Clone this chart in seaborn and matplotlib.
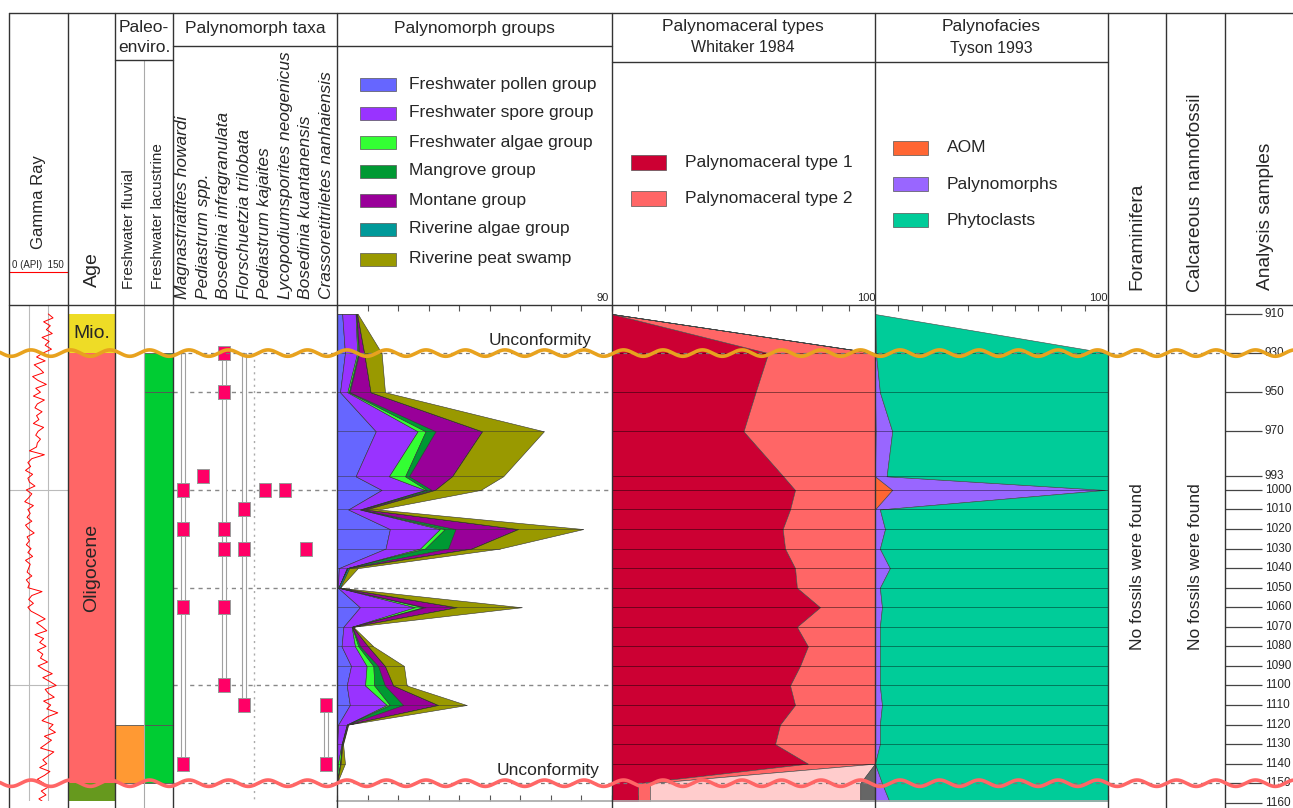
import numpy as np
import pandas as pd
import seaborn as sns
import matplotlib.pyplot as plt
from matplotlib.patches import Rectangle

sns.set_theme(style="white")
plt.rcParams['font.family'] = ['Liberation Sans', 'DejaVu Sans']

# ---------------- data ----------------
samples = [910, 930, 950, 970, 993, 1000, 1010, 1020, 1030, 1040, 1050,
           1060, 1070, 1080, 1090, 1100, 1110, 1120, 1130, 1140, 1150]
depth_labels = [910, 930, 950, 970, 993, 1000, 1010, 1020, 1030, 1040, 1050,
                1060, 1070, 1080, 1090, 1100, 1110, 1120, 1130, 1140, 1150, 1160]

# gamma ray log (API), every 2 m from 910 to 1160
gr_depth = np.arange(910, 1161, 2)
gr_api = [100, 112, 88, 105, 95, 110, 84, 102, 92, 108, 86,
          70, 92, 64, 78, 88, 60, 74, 95, 68, 80, 62, 90, 72, 66, 84, 70, 76, 62, 88, 74, 68, 80,
          72, 70, 52, 90, 58, 48,
          55, 42, 60, 48, 52, 66, 44, 58, 50, 40, 62, 48, 54, 46, 58, 42, 50, 64, 46, 52,
          44, 56, 48, 60, 42, 54, 50, 46, 58, 44, 52, 48,
          84, 58, 50, 62, 48, 56,
          75, 92, 70, 84, 96, 66, 88, 78, 94, 72, 86, 80, 98, 74,
          90, 110, 86, 104, 120, 92, 100, 115, 88, 106, 96, 124, 98, 84, 112, 102, 118, 90,
          108, 94, 80, 114, 100, 86, 96, 78, 104, 90, 72, 88, 100, 82, 94, 76, 90]

# age
age_names = ["Mio.", "Oligocene", ""]
age_top = [910, 930, 1150]
age_base = [930, 1150, 1160]
age_colors = ["#EEDC26", "#FF6666", "#66991E"]

# paleoenvironment
env_names = ["Freshwater fluvial", "Freshwater lacustrine"]
fluvial_top, fluvial_base = [1120], [1150]
lacustrine_top, lacustrine_base = [930, 950, 1120], [950, 1120, 1150]

# palynomorph taxa
taxa = ["Magnastriatites howardi", "Pediastrum spp.", "Bosedinia infragranulata",
        "Florschuetzia trilobata", "Pediastrum kajaites", "Lycopodiumsporites neogenicus",
        "Bosedinia kuantanensis", "Crassoretitriletes nanhaiensis"]
range_top = [930, np.nan, 930, 930, np.nan, np.nan, np.nan, 1110]
range_base = [1140, np.nan, 1100, 1110, np.nan, np.nan, np.nan, 1140]
occ_taxon = [0, 0, 0, 0, 1, 2, 2, 2, 2, 2, 2, 3, 3, 3, 4, 5, 6, 7, 7]
occ_depth = [1000, 1020, 1060, 1140, 993, 930, 950, 1020, 1030, 1060, 1100,
             1010, 1030, 1110, 1000, 1000, 1030, 1110, 1140]

# palynomorph groups (%)
group_names = ["Freshwater pollen group", "Freshwater spore group", "Freshwater algae group",
               "Mangrove group", "Montane group", "Riverine algae group", "Riverine peat swamp"]
group_colors = ["#6666FF", "#9933FF", "#33FF33", "#009933", "#990099", "#009999", "#999900"]
fw_pollen = [1.7, 2.6, 1.0, 12.7, 6.1, 14.6, 3.7, 17.3, 15.9, 0.6, 0.3, 7.5, 2.1, 1.5, 4.6, 3.2, 4.2, 0.4, 0.0, 0.0, 0.0]
fw_spore = [4.4, 4.0, 2.4, 13.7, 10.9, 14.2, 3.8, 16.4, 11.3, 2.6, 0.2, 18.0, 2.7, 4.4, 5.1, 6.0, 12.1, 2.8, 1.5, 0.3, 0.0]
fw_algae = [0.2, 0.4, 0.5, 2.6, 5.3, 0.6, 0.4, 1.6, 1.6, 0.1, 0.0, 2.7, 0.1, 1.1, 2.2, 3.0, 1.0, 0.1, 0.1, 0.7, 0.0]
mangrove = [0.1, 0.3, 0.3, 3.3, 1.3, 1.6, 0.4, 3.5, 7.6, 0.1, 0.0, 0.8, 0.1, 0.6, 1.6, 3.5, 4.4, 0.1, 0.1, 0.1, 0.0]
montane = [0.2, 1.6, 6.8, 15.2, 14.1, 1.1, 1.2, 20.5, 7.7, 0.1, 0.0, 10.2, 0.1, 2.6, 2.2, 2.7, 11.4, 0.1, 0.1, 0.1, 0.0]
riv_algae = [0.0, 0.0, 0.0, 0.0, 0.0, 0.0, 0.0, 0.0, 0.0, 0.5, 0.5, 0.0, 0.0, 0.0, 0.0, 0.0, 0.0, 0.0, 0.0, 0.0, 0.0]
peat_swamp = [0.2, 5.7, 4.7, 20.2, 16.7, 14.9, 4.0, 21.3, 9.2, 2.8, 0.0, 21.2, 0.2, 1.7, 6.2, 4.4, 9.3, 0.2, 0.2, 1.4, 0.0]

# palynomaceral types (%), samples + 1160
pm_names = ["Palynomaceral type 1", "Palynomaceral type 2"]
pm_colors = ["#CC0033", "#FF6666", "#FFCCCC", "#666666"]
pm_type1 = [0, 59.4, 54.6, 50.0, 65.1, 69.6, 67.7, 64.9, 65.8, 69.6, 70.3, 79.1, 70.3, 74.5, 71.5, 67.7, 69.6, 63.9, 62.0, 74.5, 9.9, 9.9]
pm_type2 = [0, 40.6, 45.4, 50.0, 34.9, 30.4, 32.3, 35.1, 34.2, 30.4, 29.7, 20.9, 29.7, 25.5, 28.5, 32.3, 30.4, 36.1, 38.0, 25.5, 4.5, 4.5]
pm_type3 = [0, 0, 0, 0, 0, 0, 0, 0, 0, 0, 0, 0, 0, 0, 0, 0, 0, 0, 0, 0, 80.0, 80.0]
pm_type4 = [0, 0, 0, 0, 0, 0, 0, 0, 0, 0, 0, 0, 0, 0, 0, 0, 0, 0, 0, 0, 5.6, 5.6]

# palynofacies (%), samples + 1160
pf_names = ["AOM", "Palynomorphs", "Phytoclasts"]
pf_colors = ["#FF6633", "#9966FF", "#00CC99"]
pf_aom = [0, 0, 0, 0.3, 0, 7.4, 0, 0, 0, 0, 0, 0, 0, 0, 0, 0, 0, 0, 0, 0, 0, 0]
pf_palyno = [0, 0.4, 2.1, 7.1, 5.0, 91.3, 2.1, 4.3, 2.1, 6.4, 2.1, 3.0, 2.1, 2.1, 2.1, 2.1, 3.0, 2.1, 2.1, 0.0, 3.0, 6.4]
pf_phyto = [0, 99.6, 97.9, 92.6, 95.0, 1.3, 97.9, 95.7, 97.9, 93.6, 97.9, 97.0, 97.9, 97.9, 97.9, 97.9, 97.0, 97.9, 97.9, 100.0, 97.0, 93.6]

# ---------------- layout ----------------
W, H = 1293, 808
Y0, Y1 = 305, 801            # panel top/bottom (px)
D0, D1 = 905.4, 1159.1       # depth at panel top/bottom
FS = 12.5


def ypx(d):
    return Y0 + (d - D0) / (D1 - D0) * (Y1 - Y0)


fig = plt.figure(figsize=(W / 100, H / 100), dpi=100)
bg = fig.add_axes([0, 0, 1, 1], zorder=0)
bg.set_xlim(0, W); bg.set_ylim(H, 0); bg.axis("off")


def col_ax(x0, x1, xlim):
    ax = fig.add_axes([x0 / W, 1 - Y1 / H, (x1 - x0) / W, (Y1 - Y0) / H], zorder=1)
    ax.set_facecolor("none")
    ax.set_xlim(*xlim)
    for s in ax.spines.values():
        s.set_visible(False)
    return ax


def finish(ax, xlim):
    ax.set_xlim(*xlim); ax.set_ylim(D1, D0)
    ax.set_xlabel(""); ax.set_ylabel("")
    ax.set_yticks([])


def x_ticks(ax, ticks):
    ax.set_xticks(ticks)
    ax.tick_params(axis="x", which="both", direction="in", top=True, bottom=True,
                   length=4, width=0.8, color="#555555", labelbottom=False, labeltop=False)
    ax.spines["bottom"].set_visible(True)
    ax.spines["bottom"].set_color("#AAAAAA")


# gamma ray
ax_gr = col_ax(9, 68, (0, 150))
for v in (50, 100):
    ax_gr.axvline(v, color="#BBBBBB", lw=0.8, zorder=0)
for d in (1000, 1100):
    ax_gr.axhline(d, color="#BBBBBB", lw=0.8, zorder=0)
gr_df = pd.DataFrame({"depth": gr_depth, "api": gr_api})
sns.lineplot(data=gr_df, x="api", y="depth", sort=False, estimator=None,
             color="#FF0000", lw=0.7, ax=ax_gr)
finish(ax_gr, (0, 150)); ax_gr.set_xticks([])

# age
ax_age = col_ax(68, 115, (0, 1))
for n, t, b, c in zip(age_names, age_top, age_base, age_colors):
    ax_age.add_patch(Rectangle((0.0, t), 1.0, b - t, facecolor=c, edgecolor="none"))
ax_age.text(0.5, (age_top[0] + age_base[0]) / 2, age_names[0], ha="center", va="center", fontsize=14)
ax_age.text(0.5, 1040, age_names[1], ha="center", va="center", rotation=90, fontsize=14)
finish(ax_age, (0, 1)); ax_age.set_xticks([])

# paleoenvironment
ax_env = col_ax(115, 173, (0, 2))
for t, b in zip(fluvial_top, fluvial_base):
    ax_env.add_patch(Rectangle((0, t), 1, b - t, facecolor="#FF9933", edgecolor="#555555", lw=0.6))
for t, b in zip(lacustrine_top, lacustrine_base):
    ax_env.add_patch(Rectangle((1, t), 1, b - t, facecolor="#00CC33", edgecolor="#555555", lw=0.6))
finish(ax_env, (0, 2)); ax_env.set_xticks([])

# palynomorph taxa
ax_tx = col_ax(173, 337, (0, 8))
for d in (950, 1000, 1050, 1100):
    ax_tx.axhline(d, color="#888888", ls=(0, (3, 3)), lw=1.0, zorder=0)
ax_tx.plot([3.97, 3.97], [930, D1], color="#AAAAAA", ls=(0, (1.5, 3)), lw=1.0, zorder=0)
for i, (t, b) in enumerate(zip(range_top, range_base)):
    if not np.isnan(t):
        ax_tx.add_patch(Rectangle((i + 0.47 - 0.1, t), 0.2, b - t, facecolor="white",
                                  edgecolor="#A0A0A0", lw=0.8, zorder=1))
occ = pd.DataFrame({"x": [i + 0.47 for i in occ_taxon], "depth": occ_depth})
box = [(-0.38, -0.5), (0.38, -0.5), (0.38, 0.5), (-0.38, 0.5), (-0.38, -0.5)]
sns.scatterplot(data=occ, x="x", y="depth", marker=box, s=110, color="#FF0066",
                edgecolor="#999999", linewidth=0.7, ax=ax_tx, zorder=3)
finish(ax_tx, (0, 8)); ax_tx.set_xticks([])

# palynomorph groups
ax_grp = col_ax(337, 612, (0, 90))
for d in (950, 1000, 1050, 1100):
    ax_grp.axhline(d, color="#888888", ls=(0, (3, 3)), lw=1.0, zorder=0)
grp = np.array([fw_pollen, fw_spore, fw_algae, mangrove, montane, riv_algae, peat_swamp])
cum = np.vstack([np.zeros(len(samples)), np.cumsum(grp, axis=0)])
for i, c in enumerate(group_colors):
    ax_grp.fill_betweenx(samples, cum[i], cum[i + 1], facecolor=c, edgecolor="#333333",
                         lw=0.4, zorder=1)
ax_grp.hlines(samples, 0, cum[-1], color="#333333", lw=0.5, alpha=0.7, zorder=2)
finish(ax_grp, (0, 90)); x_ticks(ax_grp, range(0, 91, 10))

# palynomaceral types
ax_pm = col_ax(612, 875, (0, 100))
pm = np.array([pm_type1, pm_type2, pm_type3, pm_type4])
cum_pm = np.vstack([np.zeros(len(depth_labels)), np.cumsum(pm, axis=0)])
for i, c in enumerate(pm_colors):
    ax_pm.fill_betweenx(depth_labels, cum_pm[i], cum_pm[i + 1], facecolor=c,
                        edgecolor="#444444", lw=0.4, zorder=1)
ax_pm.hlines(samples[1:20], 0, 100, color="#000000", lw=0.7, alpha=0.45, zorder=2)
finish(ax_pm, (0, 100)); x_ticks(ax_pm, range(0, 101, 10))

# palynofacies
ax_pf = col_ax(875, 1108, (0, 100))
pf = np.array([pf_aom, pf_palyno, pf_phyto])
cum_pf = np.vstack([np.zeros(len(depth_labels)), np.cumsum(pf, axis=0)])
for i, c in enumerate(pf_colors):
    ax_pf.fill_betweenx(depth_labels, cum_pf[i], cum_pf[i + 1], facecolor=c,
                        edgecolor="#444444", lw=0.4, zorder=1)
ax_pf.hlines(samples[1:20], 0, 100, color="#000000", lw=0.7, alpha=0.4, zorder=2)
finish(ax_pf, (0, 100)); x_ticks(ax_pf, range(0, 101, 10))

# analysis samples
ax_s = col_ax(1225, 1293, (0, 1))
ax_s.hlines(depth_labels, 0, 0.54, color="#444444", lw=0.9, clip_on=False)
for d in depth_labels:
    ax_s.text(0.585, d, str(d), ha="left", va="center", fontsize=8.5)
finish(ax_s, (0, 1)); ax_s.set_xticks([])

# ---------------- header ----------------
def vtext(x, y, s, size=FS, style="normal"):
    bg.text(x, y, s, rotation=90, rotation_mode="anchor", ha="left", va="center",
            fontsize=size, style=style)


vtext(39, 249, "Gamma Ray", 12)
bg.text(38, 270, "0 (API)  150", ha="center", va="bottom", fontsize=7)
bg.plot([9, 68], [272, 272], color="#FF0000", lw=0.8)
vtext(92, 287, "Age", 14)
bg.text(144, 27, "Paleo-", ha="center", va="center", fontsize=FS)
bg.text(144, 47, "enviro.", ha="center", va="center", fontsize=FS)
vtext(129, 289, env_names[0], 11)
vtext(158, 289, env_names[1], 11)
bg.text(255, 29, "Palynomorph taxa", ha="center", va="center", fontsize=FS)
for i, n in enumerate(taxa):
    vtext(173 + (i + 0.47) * 20.5, 299, n, FS, "italic")

bg.text(474, 29, "Palynomorph groups", ha="center", va="center", fontsize=FS)
for n, c, y in zip(group_names, group_colors, [84, 113, 142, 171, 200, 229, 259]):
    bg.add_patch(Rectangle((360, y - 6.5), 36, 13, facecolor=c, edgecolor="#555555", lw=0.5))
    bg.text(409, y, n, ha="left", va="center", fontsize=FS)
bg.text(603, 298, "90", ha="center", va="center", fontsize=8)

bg.text(743, 27, "Palynomaceral types", ha="center", va="center", fontsize=FS)
bg.text(743, 48, "Whitaker 1984", ha="center", va="center", fontsize=11.5)
for n, c, y in zip(pm_names, pm_colors, [162, 198]):
    bg.add_patch(Rectangle((631, y - 7.5), 35, 15, facecolor=c, edgecolor="#555555", lw=0.5))
    bg.text(685, y, n, ha="left", va="center", fontsize=FS)
bg.text(866, 298, "100", ha="center", va="center", fontsize=8)

bg.text(991, 27, "Palynofacies", ha="center", va="center", fontsize=FS)
bg.text(991, 48, "Tyson 1993", ha="center", va="center", fontsize=11.5)
for n, c, y in zip(pf_names, pf_colors, [148, 184, 220]):
    bg.add_patch(Rectangle((893, y - 7), 35, 14, facecolor=c, edgecolor="#555555", lw=0.5))
    bg.text(947, y, n, ha="left", va="center", fontsize=FS)
bg.text(1098, 298, "100", ha="center", va="center", fontsize=8)

vtext(1137, 290, "Foraminifera", 13.8)
vtext(1196, 292, "Calcareous nannofossil", 13.8)
vtext(1265, 290, "Analysis samples", 13.8)
for x in (1137, 1196):
    bg.text(x, 567, "No fossils were found", rotation=90, ha="center", va="center", fontsize=FS)

# ---------------- frame + unconformities ----------------
top = fig.add_axes([0, 0, 1, 1], zorder=5)
top.set_xlim(0, W); top.set_ylim(H, 0); top.axis("off")
for x in (9, 68, 115, 173, 337, 612, 875, 1108, 1166, 1225):
    top.plot([x, x], [13, H], color="#333333", lw=1.0, zorder=1)
top.plot([144, 144], [60, H], color="#AAAAAA", lw=0.8, zorder=1)
top.plot([9, W], [13, 13], color="#333333", lw=1.0, zorder=1)
top.plot([9, W], [305, 305], color="#333333", lw=1.0, zorder=1)
top.plot([115, 173], [60, 60], color="#333333", lw=1.0, zorder=1)
top.plot([173, 612], [46, 46], color="#333333", lw=1.0, zorder=1)
top.plot([612, 1108], [62, 62], color="#333333", lw=1.0, zorder=1)
for d in (930, 1150):
    top.plot([173, 1225], [ypx(d), ypx(d)], color="#777777", ls=(0, (3, 3)), lw=0.9, zorder=1)

xs = np.linspace(0, W, 1400)
for d, c in [(930, "#E8A21E"), (1150, "#FF6666")]:
    top.plot(xs, ypx(d) - 3.2 * np.cos(2 * np.pi * (xs - 900) / 39.5), color=c, lw=2.6,
             zorder=4, solid_capstyle="round")
top.text(540, ypx(930) - 13, "Unconformity", ha="center", va="center", fontsize=FS, zorder=3)
top.text(548, ypx(1150) - 13, "Unconformity", ha="center", va="center", fontsize=FS, zorder=3)

fig.savefig("out.png", dpi=100)
